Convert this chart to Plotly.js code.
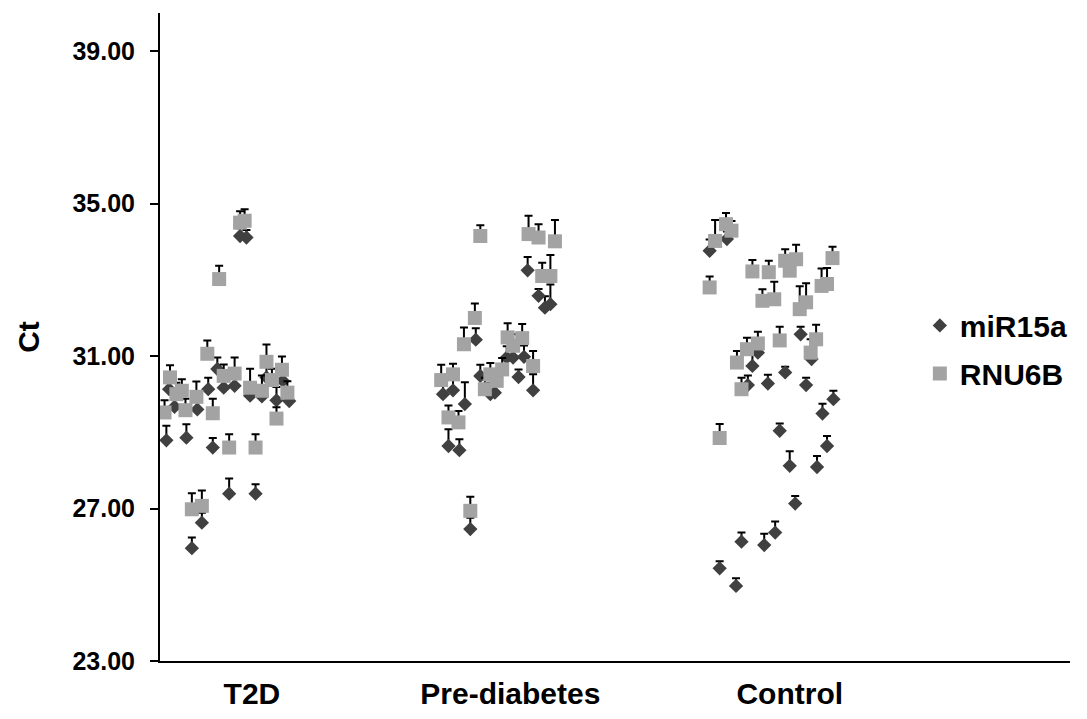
<!DOCTYPE html>
<html>
<head>
<meta charset="utf-8">
<script src="https://cdn.plot.ly/plotly-3.0.1.min.js"></script>
<style>
  html, body { margin: 0; padding: 0; background: #fff; }
  #chart { width: 1087px; height: 719px; }
</style>
</head>
<body>
<div id="chart"></div>
<script>
// groups on the x axis (sample position runs 0..100)
var groupNames = ['T2D', 'Pre-diabetes', 'Control'];
var groupPos = [10.1, 38.5, 69.2];

// miR15a - sample position, Ct, upper error
var t2dMirX   = [0.7, 1.0, 1.6, 2.9, 3.5, 4.1, 4.6, 5.3, 5.8, 6.3, 7.0, 7.6, 8.2, 8.8, 9.5, 9.9, 10.5, 11.2, 11.7, 12.8, 13.5, 14.2];
var t2dMirCt  = [28.79, 30.13, 29.67, 28.86, 25.96, 29.60, 26.63, 30.13, 28.60, 30.66, 30.17, 27.39, 30.22, 34.15, 34.11, 29.96, 27.39, 29.94, 30.44, 29.84, 30.35, 29.82];
var t2dMirErr = [0.38, 0.3, 0.3, 0.35, 0.28, 0.3, 0.26, 0.3, 0.25, 0.3, 0.3, 0.4, 0.3, 0.2, 0.2, 0.3, 0.25, 0.3, 0.3, 0.35, 0.3, 0.3];

var preMirX   = [31.1, 31.7, 32.2, 32.9, 33.5, 34.1, 34.7, 35.2, 36.3, 36.8, 38.1, 38.8, 39.4, 40.0, 40.4, 41.0, 41.6, 42.3, 42.9];
var preMirCt  = [30.00, 28.64, 30.10, 28.53, 29.74, 26.46, 31.43, 30.48, 30.00, 30.04, 30.96, 30.96, 30.45, 30.98, 33.25, 30.10, 32.58, 32.27, 32.36];
var preMirErr = [0.3, 0.44, 0.3, 0.29, 0.57, 0.3, 0.3, 0.29, 0.3, 0.3, 0.3, 0.3, 0.2, 0.3, 0.35, 0.42, 0.18, 0.3, 0.52];

var conMirX   = [60.4, 61.5, 62.3, 63.3, 63.9, 64.6, 65.1, 65.7, 66.4, 66.8, 67.6, 68.1, 68.7, 69.2, 69.8, 70.4, 71.0, 71.6, 72.2, 72.8, 73.3, 74.0];
var conMirCt  = [33.76, 25.43, 34.07, 24.97, 26.13, 30.24, 30.74, 31.09, 26.04, 30.28, 26.37, 29.04, 30.57, 28.12, 27.13, 31.57, 30.24, 30.92, 28.09, 29.49, 28.64, 29.87];
var conMirErr = [0.3, 0.19, 0.2, 0.2, 0.24, 0.25, 0.3, 0.3, 0.3, 0.23, 0.29, 0.19, 0.15, 0.38, 0.2, 0.2, 0.19, 0.3, 0.29, 0.26, 0.26, 0.22];

// RNU6B - sample position, Ct, upper error
var t2dRnuX   = [0.5, 1.1, 1.8, 2.4, 2.8, 3.5, 4.0, 4.6, 5.2, 5.8, 6.5, 7.0, 7.6, 8.2, 8.8, 9.3, 9.9, 10.5, 11.2, 11.7, 12.3, 12.8, 13.4, 14.0];
var t2dRnuCt  = [29.52, 30.44, 30.00, 30.09, 29.58, 26.98, 29.93, 27.07, 31.06, 29.50, 33.02, 30.48, 28.60, 30.54, 34.50, 34.55, 30.17, 28.60, 30.09, 30.85, 30.37, 29.36, 30.64, 30.04];
var t2dRnuErr = [0.32, 0.32, 0.3, 0.3, 0.3, 0.42, 0.4, 0.4, 0.35, 0.38, 0.35, 0.3, 0.35, 0.42, 0.3, 0.3, 0.5, 0.35, 0.4, 0.45, 0.3, 0.3, 0.35, 0.3];

var preRnuX   = [30.9, 31.7, 32.2, 32.8, 33.4, 34.1, 34.6, 35.2, 35.7, 36.3, 37.0, 37.6, 38.2, 38.8, 39.8, 40.5, 41.0, 41.6, 42.0, 42.9, 43.4];
var preRnuCt  = [30.37, 29.39, 30.52, 29.26, 31.31, 26.94, 32.00, 34.15, 30.13, 30.52, 30.35, 30.65, 31.49, 31.27, 31.47, 34.20, 30.74, 34.11, 33.10, 33.10, 34.01];
var preRnuErr = [0.4, 0.31, 0.28, 0.3, 0.44, 0.37, 0.38, 0.28, 0.3, 0.3, 0.3, 0.3, 0.37, 0.3, 0.37, 0.48, 0.39, 0.35, 0.35, 0.55, 0.56];

var conRnuX   = [60.4, 61.0, 61.5, 62.2, 62.8, 63.4, 63.9, 64.5, 65.1, 65.7, 66.2, 66.9, 67.5, 68.1, 68.7, 69.2, 69.9, 70.3, 71.0, 71.5, 72.1, 72.7, 73.3, 73.9];
var conRnuCt  = [32.80, 34.02, 28.85, 34.46, 34.29, 30.83, 30.13, 31.18, 33.22, 31.33, 32.45, 33.20, 32.49, 31.41, 33.50, 33.24, 33.54, 32.23, 32.41, 31.09, 31.44, 32.84, 32.89, 33.57];
var conRnuErr = [0.29, 0.55, 0.37, 0.29, 0.25, 0.3, 0.3, 0.3, 0.3, 0.31, 0.3, 0.3, 0.46, 0.36, 0.3, 0.3, 0.38, 0.6, 0.5, 0.35, 0.38, 0.46, 0.42, 0.3];

var boldFont = { family: 'Liberation Sans, Arial, sans-serif', color: '#000', weight: 'bold' };

var mir = {
  type: 'scatter', mode: 'markers', name: 'miR15a', legendgroup: 'a',
  x: t2dMirX.concat(preMirX, conMirX),
  y: t2dMirCt.concat(preMirCt, conMirCt),
  marker: { symbol: 'diamond', size: 11, color: '#404040' },
  error_y: { type: 'data', symmetric: false, array: t2dMirErr.concat(preMirErr, conMirErr),
             arrayminus: [], color: '#000', thickness: 2, width: 4 }
};
mir.error_y.arrayminus = mir.x.map(function () { return 0; });

var rnu = {
  type: 'scatter', mode: 'markers', name: 'RNU6B', legendgroup: 'b',
  x: t2dRnuX.concat(preRnuX, conRnuX),
  y: t2dRnuCt.concat(preRnuCt, conRnuCt),
  marker: { symbol: 'square', size: 14, color: '#a3a3a3' },
  error_y: { type: 'data', symmetric: false, array: t2dRnuErr.concat(preRnuErr, conRnuErr),
             arrayminus: [], color: '#000', thickness: 2, width: 4 }
};
rnu.error_y.arrayminus = rnu.x.map(function () { return 0; });

var layout = {
  width: 1087, height: 719,
  margin: { l: 160, r: 17, t: 13, b: 58 },
  paper_bgcolor: '#fff', plot_bgcolor: '#fff',
  showlegend: true,
  legend: { x: 0.835, y: 0.558, xanchor: 'left', yanchor: 'top',
            traceorder: 'grouped', tracegroupgap: 6, itemwidth: 30,
            font: Object.assign({ size: 30 }, boldFont), bgcolor: 'rgba(0,0,0,0)' },
  xaxis: {
    range: [0, 100], showgrid: false, zeroline: false,
    showline: true, linecolor: '#000', linewidth: 2,
    tickvals: groupPos, ticktext: groupNames, ticks: '',
    tickfont: Object.assign({ size: 30 }, boldFont), ticklabelstandoff: 5
  },
  yaxis: {
    range: [23, 40], tick0: 23, dtick: 4, tickformat: '.2f',
    showgrid: false, zeroline: false,
    showline: true, linecolor: '#000', linewidth: 2,
    ticks: 'outside', ticklen: 8, tickwidth: 2, tickcolor: '#000',
    tickfont: Object.assign({ size: 25 }, boldFont), ticklabelstandoff: 10,
    title: { text: 'Ct', font: Object.assign({ size: 30 }, boldFont), standoff: 24 }
  }
};

Plotly.newPlot('chart', [mir, rnu], layout, { displayModeBar: false, staticPlot: true });
</script>
</body>
</html>
